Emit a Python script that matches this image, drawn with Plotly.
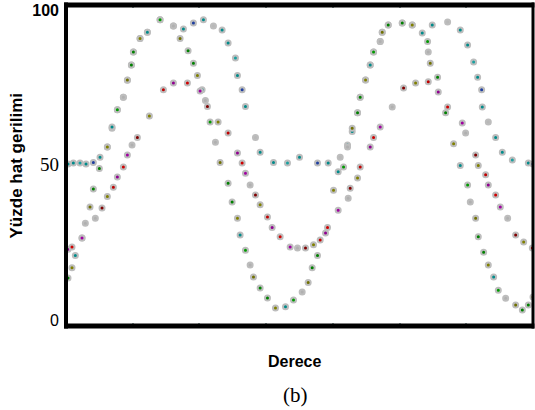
import plotly.graph_objects as go

# ---- data (x in degrees, y in percent line voltage) ----
a_deg = [3, 11, 21, 30, 41, 51, 62, 69, 77, 86, 92, 98, 101, 111, 122, 141, 161, 176, 191, 206,
         221, 234, 243, 254, 257, 264, 269, 284, 291, 311, 332, 350, 377, 393, 411, 422, 429, 437, 441, 449,
         456, 461, 471, 474, 483, 504, 519, 549, 572, 591, 602, 611, 617, 623, 624, 633, 644, 654, 669, 693,
         700]
a_pct = [50.5, 50.8, 50.8, 50.5, 51, 52.7, 56, 62, 68, 72, 77.5, 82.4, 86.6, 91, 93, 97, 95, 94, 96, 97,
         95, 93.7, 89.5, 84.7, 79, 74.4, 69, 59, 54.3, 51, 50.8, 52.7, 50.8, 50.8, 52.7, 56.6, 61, 67, 72, 77.6,
         82.4, 86.6, 90, 93, 95.3, 96, 95.3, 95.3, 96.3, 93.7, 88.9, 83.4, 78.5, 74.4, 68.9, 64, 59, 54.3, 51.8, 50.8,
         50.5]

b_deg = [3, 9, 14, 24, 29, 36, 41, 50, 62, 69, 77, 86, 92, 98, 101, 111, 122, 141, 161, 171,
         183, 191, 197, 204, 216, 224, 231, 243, 249, 257, 261, 269, 276, 281, 291, 302, 314, 329, 341, 354,
         363, 369, 377, 401, 408, 416, 422, 429, 437, 441, 449, 456, 461, 471, 474, 483, 504, 519, 534, 542,
         543, 546, 557, 569, 581, 591, 602, 606, 614, 618, 626, 633, 641, 648, 659, 674, 684, 693, 700]
b_pct = [13.7, 17, 21, 26.6, 31.4, 36.6, 42.4, 49, 56, 62.4, 68, 72, 77.6, 82.4, 86.6, 91, 93, 97, 95, 91,
         87, 83, 79, 74.4, 64, 57.5, 51, 44.3, 38.2, 33, 27.6, 22.7, 17.9, 14, 10.5, 7.3, 4, 4.4, 6.6, 9.2,
         12.3, 17, 21, 42, 48, 49.5, 56, 62, 67, 72, 77.6, 82.4, 86.6, 90, 93, 95.3, 96, 95.3, 92.7, 90,
         86.6, 83, 78.5, 67, 57, 50, 43.7, 38.2, 33, 27, 22, 17.9, 14, 9.8, 7.2, 5, 3.4, 5, 7.6]

c_deg = [3, 9, 24, 44, 54, 62, 71, 77, 86, 92, 99, 107, 125, 146, 161, 182, 201, 209, 212, 228,
         243, 257, 264, 269, 276, 284, 291, 302, 309, 321, 336, 347, 359, 371, 381, 389, 392, 408, 423, 426,
         437, 441, 456, 461, 471, 489, 506, 524, 543, 558, 572, 594, 599, 614, 618, 629, 633, 644, 651, 662,
         674, 686, 699]
c_pct = [23, 23.7, 26.6, 33, 36.3, 40, 43, 46.3, 49.5, 53.4, 56.6, 59, 66, 74.4, 76.6, 76.6, 74, 71, 69, 64,
         60.5, 54, 50.8, 47.5, 43.7, 40.5, 37.3, 33.4, 30, 27, 23.7, 23.4, 23.4, 24.4, 26, 28.2, 30, 35.6, 39.4, 42.7,
         46, 49.5, 56, 59, 62.4, 68.9, 75, 76.6, 77, 73.7, 68.9, 63.7, 60.5, 53.4, 50, 47, 43.7, 40.5, 36.6, 33,
         27.6, 25.3, 23.4]

y_tickvals = [0, 50, 100]
y_ticktext = ["0",
              "<span style=\"font-family:'Liberation Serif', 'Times New Roman', serif; font-size:19px\">50</span>",
              "<b>100</b>"]
x_tickvals = [100, 200, 300, 400, 500, 600]

# ---- styling ----
pal_a = ['#008b8b', '#008b8b', '#1aa0a0', '#008b8b', '#1f3fa0', '#008b8b', '#b8b8b8']
pal_b = ['#008000', '#808000', '#008b8b', '#009a00', '#b0b0b0', '#707000', '#008000']
pal_c = ['#900090', '#d00000', '#a000a0', '#b0b0b0', '#800000', '#808000', '#c00000']


def cycle(pal, n):
    return [pal[i % len(pal)] for i in range(n)]


fig = go.Figure()
for xs, ys, pal in [(a_deg, a_pct, pal_a), (b_deg, b_pct, pal_b), (c_deg, c_pct, pal_c)]:
    fig.add_trace(go.Scatter(
        x=xs, y=ys, mode='markers',
        marker=dict(size=5, color=cycle(pal, len(xs)),
                    line=dict(color='#bdbdbd', width=2)),
        showlegend=False, hoverinfo='skip'))

fig.update_layout(
    width=535, height=410,
    margin=dict(l=66, r=2, t=5, b=84),
    paper_bgcolor='white', plot_bgcolor='white',
    font=dict(family="'Liberation Sans', Arial, sans-serif", color='black'),
    xaxis=dict(range=[0, 700], showgrid=False, zeroline=False, showline=False,
               tickvals=x_tickvals, showticklabels=False, ticks='inside', ticklen=3,
               tickcolor='#8fa0a0', tickwidth=2, mirror='ticks'),
    yaxis=dict(range=[-1.77, 101.77], showgrid=False, zeroline=False, showline=False,
               tickvals=y_tickvals, ticktext=y_ticktext, ticks='',
               tickfont=dict(size=16, family="'Liberation Sans', Arial, sans-serif"),
               ticklabelstandoff=6),
    shapes=[
        dict(type='line', xref='paper', yref='paper', x0=0, x1=0, y0=-0.008, y1=1.008,
             line=dict(color='black', width=4)),
        dict(type='line', xref='paper', yref='paper', x0=-0.004, x1=1.003, y0=1, y1=1,
             line=dict(color='black', width=5)),
        dict(type='line', xref='paper', yref='paper', x0=-0.004, x1=1.003, y0=0, y1=0,
             line=dict(color='black', width=5)),
        dict(type='line', xref='paper', yref='paper', x0=1, x1=1, y0=-0.008, y1=1.008,
             line=dict(color='black', width=3)),
    ],
    annotations=[
        dict(text='<b>Yüzde hat gerilimi</b>', xref='paper', yref='paper',
             x=-0.105, y=0.5, xanchor='center', yanchor='middle', textangle=-90,
             showarrow=False, font=dict(size=17, family="'Liberation Sans', Arial, sans-serif")),
        dict(text='<b>Derece</b>', xref='paper', yref='paper',
             x=0.49, y=-0.112, xanchor='center', yanchor='middle',
             showarrow=False, font=dict(size=16, family="'Liberation Sans', Arial, sans-serif")),
        dict(text='(b)', xref='paper', yref='paper',
             x=0.492, y=-0.215, xanchor='center', yanchor='middle',
             showarrow=False, font=dict(size=21, family="'Liberation Serif', 'Times New Roman', serif")),
    ],
)

fig.write_html('out.html', config={'displayModeBar': False},
               post_script="document.body.style.margin='0';document.body.style.padding='0';")
